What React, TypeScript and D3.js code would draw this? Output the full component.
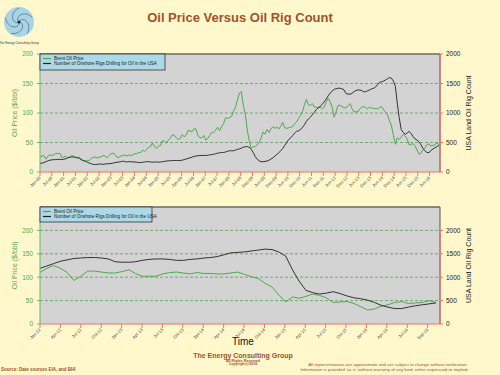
import React from "react";
import * as d3 from "d3";

// ---------- DATA (monthly, starting Jan 2000) ----------
const brent2000_2005 = [
  25, 27, 28, 22, 27, 29, 28, 29, 32, 31, 32, 25,
  25, 27, 24, 25, 28, 27, 24, 25, 25, 20, 19, 19,
  19, 20, 23, 25, 25, 24, 25, 26, 28, 27, 24, 28,
  31, 32, 30, 25, 25, 27, 28, 29, 27, 29, 28, 29,
  31, 31, 33, 33, 37, 35, 38, 42, 43, 49, 43, 40,
  44, 45, 53, 52, 49, 54, 57, 63, 62, 58, 55, 57,
];
const brent2006_2011 = [
  63, 60, 62, 70, 70, 68, 73, 73, 62, 58, 58, 62,
  54, 57, 62, 67, 67, 71, 76, 70, 77, 82, 92, 91,
  92, 94, 103, 109, 122, 134, 136, 113, 97, 71, 52, 40,
  43, 43, 46, 50, 57, 68, 64, 72, 67, 73, 77, 74,
  76, 73, 78, 84, 75, 74, 75, 76, 77, 82, 85, 91,
  96, 103, 114, 123, 114, 113, 116, 110, 110, 109, 110, 107,
];
const brent2012_2016 = [
  110, 119, 125, 119, 110, 93, 102, 113, 113, 111, 109, 109,
  112, 116, 108, 102, 102, 102, 107, 110, 111, 109, 107, 110,
  108, 108, 107, 107, 109, 111, 106, 101, 97, 87, 79, 62,
  47, 58, 55, 59, 64, 61, 56, 46, 47, 48, 44, 37,
  30, 32, 38, 41, 46, 48, 44, 45, 46, 50, 46,
];
const rigs2000_2005 = [
  145, 150, 160, 175, 190, 200, 205, 210, 210, 215, 215, 210,
  215, 225, 240, 250, 255, 255, 250, 240, 230, 210, 195, 180,
  165, 150, 140, 130, 125, 130, 135, 135, 130, 135, 140, 140,
  145, 150, 160, 165, 170, 175, 185, 175, 170, 175, 175, 170,
  170, 165, 160, 160, 165, 170, 175, 175, 170, 165, 170, 170,
  165, 170, 175, 180, 185, 190, 190, 195, 195, 195, 195, 195,
];
const rigs2006_2011 = [
  200, 210, 220, 230, 240, 250, 265, 270, 275, 280, 280, 280,
  280, 285, 290, 295, 300, 310, 320, 325, 330, 330, 340, 350,
  360, 360, 360, 370, 385, 390, 405, 420, 430, 430, 420, 380,
  330, 260, 220, 190, 175, 175, 180, 185, 200, 220, 240, 270,
  300, 330, 360, 400, 450, 500, 550, 580, 620, 660, 690, 700,
  720, 760, 800, 860, 900, 930, 970, 1010, 1060, 1090, 1110, 1150,
];
const rigs2012_2016 = [
  1190, 1240, 1290, 1340, 1370, 1400, 1410, 1420, 1420, 1410, 1390, 1330,
  1320, 1320, 1330, 1360, 1380, 1390, 1390, 1380, 1360, 1360, 1380, 1390,
  1410, 1420, 1440, 1480, 1520, 1530, 1540, 1560, 1580, 1600, 1590, 1540,
  1450, 1150, 920, 720, 670, 640, 660, 690, 650, 600, 560, 540,
  510, 460, 400, 360, 330, 330, 360, 390, 410, 430, 450,
];

const topTickLabels = [
  "Jan-00", "Jul-00", "Jan-01", "Jul-01", "Jan-02", "Jul-02", "Jan-03", "Jul-03",
  "Jan-04", "Jul-04", "Jan-05", "Jul-05", "Jan-06", "Jul-06", "Jan-07", "Jul-07",
  "Jan-08", "Jul-08", "Dec-08", "Jun-09", "Dec-09", "Jun-10", "Dec-10", "Jun-11",
  "Dec-11", "Jun-12", "Dec-12", "Jun-13", "Dec-13", "Jun-14", "Dec-14", "Jun-15",
  "Dec-15", "Jun-16",
];
const bottomTickLabels = [
  "Jan-12", "Apr-12", "Jul-12", "Oct-12", "Jan-13", "Apr-13", "Jul-13", "Oct-13",
  "Jan-14", "Apr-14", "Jul-14", "Oct-14", "Jan-15", "Apr-15", "Jul-15", "Oct-15",
  "Jan-16", "Apr-16", "Jul-16", "Sep-16",
];
const topPriceTicks = [0, 50, 100, 150, 200];
const topRigTicks = [0, 500, 1000, 1500, 2000];
const bottomPriceTicks = [0, 50, 100, 150, 200];
const bottomRigTicks = [0, 500, 1000, 1500, 2000];

// ---------- helpers ----------
const brent = [...brent2000_2005, ...brent2006_2011, ...brent2012_2016];
const rigs = [...rigs2000_2005, ...rigs2006_2011, ...rigs2012_2016];
const dates = brent.map((_, i) => new Date(2000, i, 1));
const series = dates.map((d, i) => ({ date: d, price: brent[i], rigs: rigs[i] }));

const BG = "#fff8cc";
const PLOT_BG = "#d3d3d3";
const GREEN = "#4fa84f";
const AXIS_GREEN = "#66bb66";
const RED = "#f07070";
const SIENNA = "#a0522d";
const FONT = "Arial, Liberation Sans, sans-serif";
const END = new Date(2016, 10, 19);

type PanelProps = {
  top: number;
  bottom: number;
  start: Date;
  stepDays: number;
  tickLabels: string[];
  priceMax: number;
  rigMax: number;
  priceTicks: number[];
  rigTicks: number[];
  legendW: number;
  legendH: number;
};

function Panel(p: PanelProps) {
  const left = 40;
  const right = 440;
  const x = d3.scaleTime().domain([p.start, END]).range([left, right]);
  const yP = d3.scaleLinear().domain([0, p.priceMax]).range([p.bottom, p.top]);
  const yR = d3.scaleLinear().domain([0, p.rigMax]).range([p.bottom, p.top]);
  const data = series.filter((d) => d.date >= d3.timeMonth.offset(p.start, -1) && d.date <= END);
  const clipId = `clip-${p.top}`;
  const linePrice = d3
    .line<any>()
    .x((d) => x(d.date))
    .y((d) => yP(d.price));
  const lineRig = d3
    .line<any>()
    .x((d) => x(d.date))
    .y((d) => yR(d.rigs));
  const tickDates = p.tickLabels.map((_, i) => d3.timeDay.offset(p.start, Math.round(i * p.stepDays)));
  const midY = (p.top + p.bottom) / 2;
  return (
    <g>
      <defs>
        <clipPath id={clipId}>
          <rect x={left} y={p.top} width={right - left} height={p.bottom - p.top} />
        </clipPath>
      </defs>
      <rect x={left} y={p.top} width={right - left} height={p.bottom - p.top} fill={PLOT_BG} />
      {p.priceTicks
        .filter((t) => t > 0 && yP(t) > p.top + 1)
        .map((t) => (
          <line key={t} x1={left} x2={right} y1={yP(t)} y2={yP(t)} stroke="#5a9e5a" strokeWidth={0.8} strokeDasharray="3,2" />
        ))}
      <g clipPath={`url(#${clipId})`}>
        <path d={linePrice(data) || ""} fill="none" stroke={GREEN} strokeWidth={1} />
        <path d={lineRig(data) || ""} fill="none" stroke="#333" strokeWidth={1} />
      </g>
      {/* frame */}
      <line x1={left} x2={right} y1={p.top} y2={p.top} stroke="#6b6b5a" strokeWidth={1.5} />
      <line x1={right} x2={right} y1={p.top} y2={p.bottom} stroke="#555" strokeWidth={1} />
      {/* left axis */}
      <line x1={left} x2={left} y1={p.top} y2={p.bottom} stroke={AXIS_GREEN} strokeWidth={1} />
      {p.priceTicks.map((t) => (
        <g key={t}>
          <line x1={left - 3} x2={left} y1={yP(t)} y2={yP(t)} stroke={AXIS_GREEN} />
          <text x={left - 7} y={yP(t) + 2.3} fontSize={6.5} fill={GREEN} textAnchor="end" fontFamily={FONT}>
            {t}
          </text>
        </g>
      ))}
      {/* right axis */}
      <line x1={right} x2={right} y1={yR(p.rigTicks[p.rigTicks.length - 1])} y2={p.bottom} stroke={RED} strokeWidth={1.2} />
      {p.rigTicks.map((t) => (
        <g key={t}>
          <line x1={right} x2={right + 3} y1={yR(t)} y2={yR(t)} stroke={RED} />
          <text x={right + 6} y={yR(t) + 2.3} fontSize={6.5} fill="#222" fontFamily={FONT}>
            {t}
          </text>
        </g>
      ))}
      {/* bottom axis */}
      <line x1={left} x2={right} y1={p.bottom} y2={p.bottom} stroke={RED} strokeWidth={1.2} />
      {tickDates.map((d, i) => (
        <g key={i}>
          <line x1={x(d)} x2={x(d)} y1={p.bottom} y2={p.bottom + 4} stroke={RED} />
          <text
            transform={`translate(${x(d) + 1},${p.bottom + 6}) rotate(-45)`}
            fontSize={4.3}
            fill="#444"
            textAnchor="end"
            fontFamily={FONT}
          >
            {p.tickLabels[i]}
          </text>
        </g>
      ))}
      {/* axis titles */}
      <text transform={`translate(17,${midY}) rotate(-90)`} fontSize={7} fill={GREEN} textAnchor="middle" fontFamily={FONT}>
        Oil Price ($/bbl)
      </text>
      <text transform={`translate(471,${midY}) rotate(-90)`} fontSize={7} fill="#222" textAnchor="middle" fontFamily={FONT}>
        USA Land Oil Rig Count
      </text>
      {/* legend */}
      <rect x={left} y={p.top} width={p.legendW} height={p.legendH} fill="#add8e6" stroke="#333" strokeWidth={0.8} />
      <line x1={left + 3} x2={left + 11} y1={p.top + 4.5} y2={p.top + 4.5} stroke={GREEN} strokeWidth={1.2} />
      <text x={left + 14} y={p.top + 6} fontSize={4.6} fill="#222" fontFamily={FONT}>
        Brent Oil Price
      </text>
      <line x1={left + 3} x2={left + 11} y1={p.top + 9.5} y2={p.top + 9.5} stroke="#222" strokeWidth={1.2} />
      <text x={left + 14} y={p.top + 11} fontSize={4.6} fill="#222" fontFamily={FONT}>
        Number of Onshore Rigs Drilling for Oil in the USA
      </text>
    </g>
  );
}

function Logo() {
  const cx = 19;
  const cy = 22;
  const arms = d3.range(5).map((k) => {
    const pts: [number, number][] = d3.range(0, 1.01, 0.05).map((t) => {
      const a = k * ((2 * Math.PI) / 5) + t * 2.2;
      const r = t * 14;
      return [cx + r * Math.cos(a), cy + r * Math.sin(a)];
    });
    return d3.line()(pts) || "";
  });
  return (
    <g>
      <circle cx={cx} cy={cy} r={15} fill="#a9d3e6" />
      {arms.map((a, i) => (
        <path key={i} d={a} fill="none" stroke="#3a5566" strokeWidth={0.6} />
      ))}
      <circle cx={cx} cy={cy} r={1.5} fill="#222" />
      <text x={cx} y={43.5} fontSize={3} fill="#333" textAnchor="middle" fontFamily={FONT}>
        The Energy Consulting Group
      </text>
    </g>
  );
}

export default function App() {
  return (
    <svg width={500} height={375} style={{ position: "absolute", left: 0, top: 0 }}>
      <rect width={500} height={375} fill={BG} />
      <Logo />
      <text x={240} y={21.5} fontSize={13} fontWeight="bold" fill={SIENNA} textAnchor="middle" fontFamily={FONT}>
        Oil Price Versus Oil Rig Count
      </text>
      <Panel
        top={54}
        bottom={172}
        start={new Date(2000, 0, 1)}
        stepDays={182}
        tickLabels={topTickLabels}
        priceMax={200}
        rigMax={2000}
        priceTicks={topPriceTicks}
        rigTicks={topRigTicks}
        legendW={125}
        legendH={16}
      />
      <Panel
        top={207}
        bottom={324}
        start={new Date(2012, 0, 1)}
        stepDays={91}
        tickLabels={bottomTickLabels}
        priceMax={250}
        rigMax={2500}
        priceTicks={bottomPriceTicks}
        rigTicks={bottomRigTicks}
        legendW={112}
        legendH={15}
      />
      <text x={243} y={345} fontSize={10} fill="#111" textAnchor="middle" fontFamily={FONT}>
        Time
      </text>
      <text x={243} y={357.5} fontSize={7} fontWeight="bold" fill={SIENNA} textAnchor="middle" fontFamily={FONT}>
        The Energy Consulting Group
      </text>
      <text x={243} y={361.5} fontSize={3.6} fontWeight="bold" fill={SIENNA} textAnchor="middle" fontFamily={FONT}>
        All Rights Reserved
      </text>
      <text x={243} y={364.8} fontSize={3.6} fontWeight="bold" fill={SIENNA} textAnchor="middle" fontFamily={FONT}>
        Copyright@2016
      </text>
      <text x={1} y={371} fontSize={4.5} fontWeight="bold" fill={SIENNA} fontFamily={FONT}>
        Source: Date sources EIA, and BHI
      </text>
      <text x={388} y={366} fontSize={4.4} fill={SIENNA} textAnchor="middle" fontFamily={FONT}>
        All representations are approximate and are subject to change without notification.
      </text>
      <text x={384} y={371} fontSize={4.4} fill={SIENNA} textAnchor="middle" fontFamily={FONT}>
        Information is provided 'as is' without warranty of any kind, either expressed or implied
      </text>
    </svg>
  );
}
